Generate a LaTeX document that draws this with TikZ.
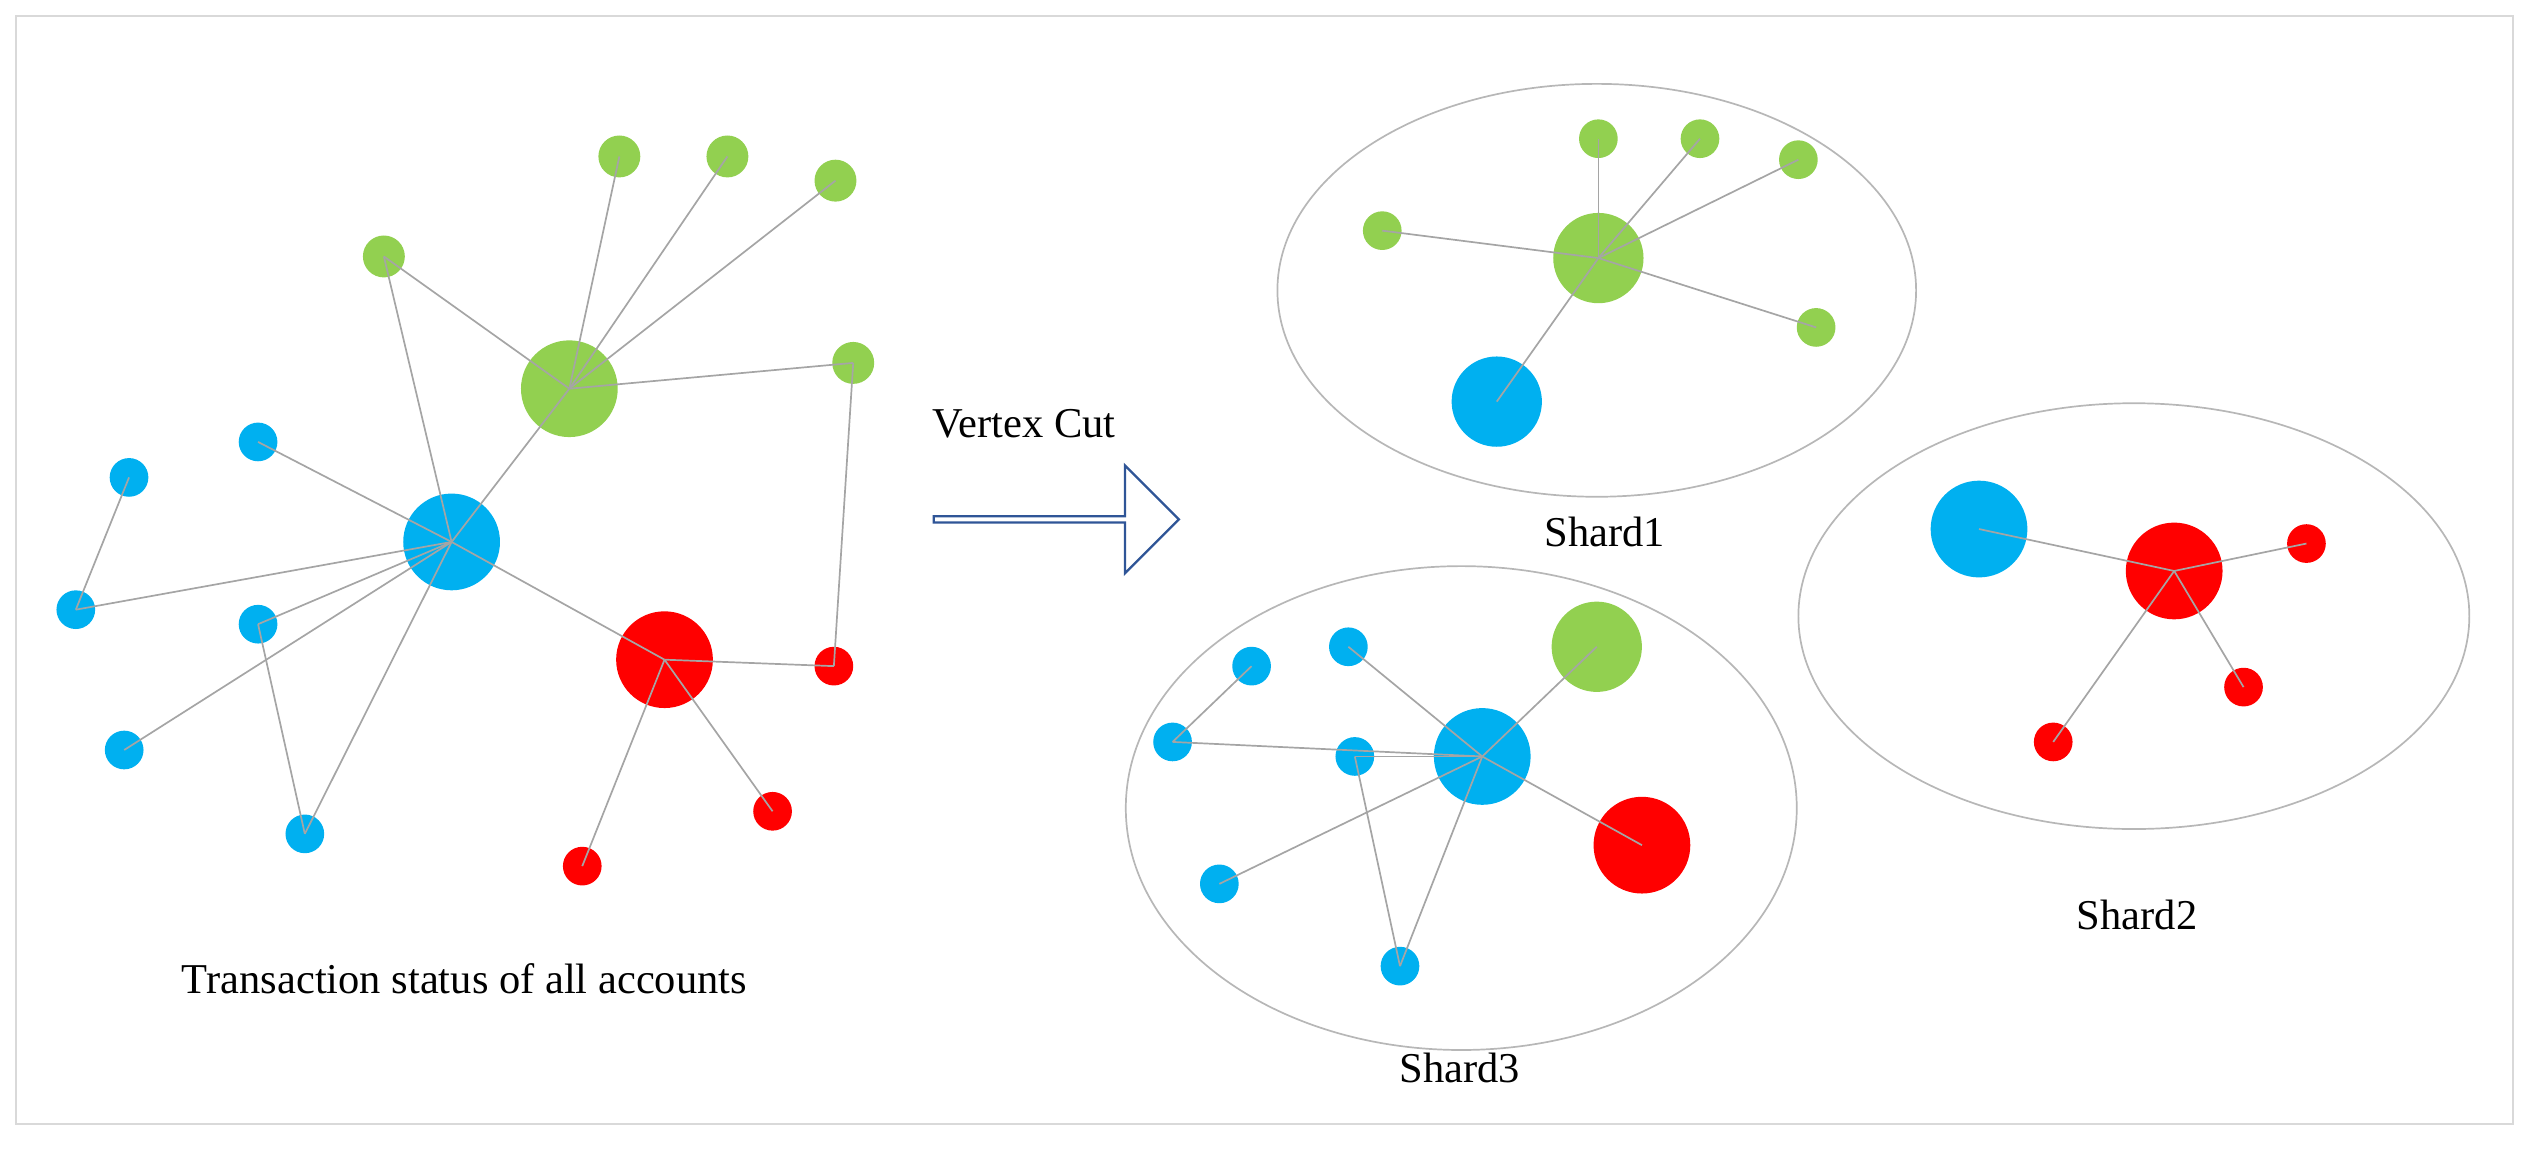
\documentclass[tikz,border=0pt]{standalone}
\usepackage{fontspec}
\setmainfont{Liberation Serif}
\usetikzlibrary{shapes.arrows}
\definecolor{acblue}{RGB}{0, 176, 240}
\definecolor{acgreen}{RGB}{146, 208, 80}
\definecolor{acred}{RGB}{255, 0, 0}
\definecolor{edgegray}{RGB}{165, 165, 165}
\definecolor{arrowblue}{RGB}{47, 85, 151}
\tikzset{%
    acc/.style={circle, inner sep=0pt, minimum size=#1*0.04cm},
    blue/.style={acc=#1, fill=acblue},
    green/.style={acc=#1, fill=acgreen},
    red/.style={acc=#1, fill=acred},
    link/.style={draw=edgegray, line width=0.6pt},
    shard/.style={draw=edgegray!80, line width=0.6pt},
    caption/.style={font=\fontsize{15}{18}\selectfont}
}

\begin{document}
\begin{tikzpicture}[x=0.02cm, y=-0.02cm]

    \useasboundingbox (0, 0) rectangle (1568, 717);
    \draw[draw=black!15, line width=0.6pt] (10, 10) rectangle (1558, 697);

    % All accounts
    \node[green=30] (lg) at (353, 241) {};
    \node[blue=30] (lb) at (280, 336) {};
    \node[red=30] (lr) at (412, 409) {};
    \foreach \name/\x/\y in {lg1/384/97, lg2/451/97, lg3/518/112,
                             lg4/238/159, lg5/529/225}{%
        \node[green=13] (\name) at (\x, \y) {};
    };
    \foreach \name/\x/\y in {lb1/160/274, lb2/80/296, lb3/47/378,
                             lb4/160/387, lb5/77/465, lb6/189/517}{%
        \node[blue=12] (\name) at (\x, \y) {};
    };
    \foreach \name/\x/\y in {lr1/517/413, lr2/479/503, lr3/361/537}{%
        \node[red=12] (\name) at (\x, \y) {};
    };
    \foreach \a/\b in {lg/lg1, lg/lg2, lg/lg3, lg/lg4, lg/lg5, lg4/lb,
                       lg5/lr1, lb/lg, lb/lb1, lb/lb3, lb/lb4, lb/lb5,
                       lb/lb6, lb2/lb3, lb4/lb6, lb/lr, lr/lr1, lr/lr2,
                       lr/lr3}{%
        \draw[link] (\a.center) -- (\b.center);
    };
    \node[caption] (lcap) at (288, 607) {Transaction status of all accounts};

    % Vertex cut
    \node[%
        single arrow,
        draw=arrowblue,
        fill=white,
        line width=0.8pt,
        inner sep=0pt,
        minimum width=1.34cm,
        minimum height=3.04cm,
        single arrow head extend=0.23cm,
        single arrow head indent=0pt
    ] (cut) at (654, 322) {};
    \node[caption] (cutlabel) at (635, 263) {Vertex Cut};

    % Shard1
    \draw[shard] (990, 180) ellipse [x radius=198, y radius=128];
    \node[green=28] (ag) at (991, 160) {};
    \node[blue=28] (ab) at (928, 249) {};
    \foreach \name/\x/\y in {ag1/991/86, ag2/1054/86, ag3/1115/99,
                             ag4/857/143, ag5/1126/203}{%
        \node[green=12] (\name) at (\x, \y) {};
        \draw[link] (ag.center) -- (\name.center);
    };
    \draw[link] (ag.center) -- (ab.center);
    \node[caption] (acap) at (995, 330) {Shard1};

    % Shard2
    \draw[shard] (1323, 382) ellipse [x radius=208, y radius=132];
    \node[red=30] (br) at (1348, 354) {};
    \node[blue=30] (bb) at (1227, 328) {};
    \draw[link] (br.center) -- (bb.center);
    \foreach \name/\x/\y in {br1/1430/337, br2/1391/426, br3/1273/460}{%
        \node[red=12] (\name) at (\x, \y) {};
        \draw[link] (br.center) -- (\name.center);
    };
    \node[caption] (bcap) at (1325, 567) {Shard2};

    % Shard3
    \draw[shard] (906, 501) ellipse [x radius=208, y radius=150];
    \node[blue=30] (cb) at (919, 469) {};
    \node[green=28] (cg) at (990, 401) {};
    \node[red=30] (cr) at (1018, 524) {};
    \foreach \name/\x/\y in {cb1/776/413, cb2/836/401, cb3/727/460,
                             cb4/840/469, cb5/756/548, cb6/868/599}{%
        \node[blue=12] (\name) at (\x, \y) {};
    };
    \foreach \a/\b in {cb/cg, cb/cr, cb/cb2, cb/cb3, cb/cb4, cb/cb5,
                       cb/cb6, cb1/cb3, cb4/cb6}{%
        \draw[link] (\a.center) -- (\b.center);
    };
    \node[caption] (ccap) at (905, 662) {Shard3};

\end{tikzpicture}
\end{document}
